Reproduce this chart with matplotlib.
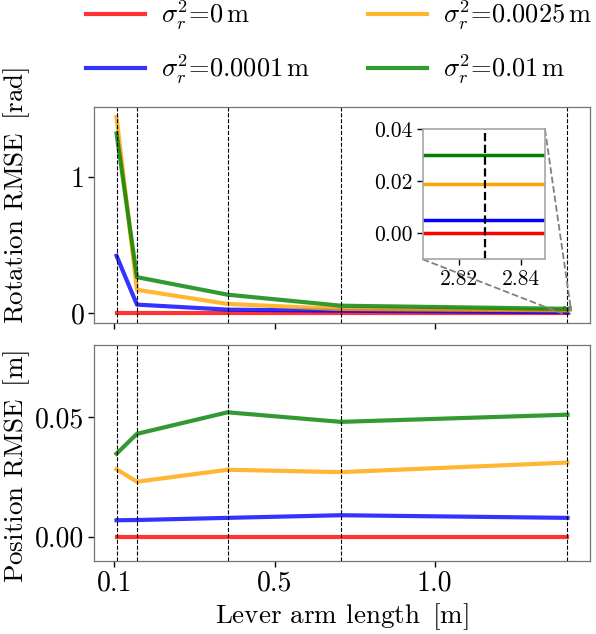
import matplotlib
matplotlib.use("Agg")
import matplotlib.pyplot as plt
from mpl_toolkits.axes_grid1.inset_locator import mark_inset

plt.rcParams['font.family'] = ['cmr10', 'DejaVu Serif']
plt.rcParams['mathtext.fontset'] = 'cm'
plt.rcParams['axes.unicode_minus'] = False
plt.rcParams['axes.formatter.use_mathtext'] = True

# ---------------- data ----------------
lever_arm = [0.01414, 0.1414, 0.7071, 1.4142, 2.8284]
xtick_pos = [0, 1, 2]
xtick_labels = ['0.1', '0.5', '1.0']

labels = [r'$\sigma_r^2$=0$\,$m', r'$\sigma_r^2$=0.0001$\,$m',
          r'$\sigma_r^2$=0.0025$\,$m', r'$\sigma_r^2$=0.01$\,$m']
colors = ['red', 'blue', 'orange', 'green']

rot_0 = [0.0, 0.0, 0.0, 0.0, 0.0]
rot_00001 = [0.42, 0.061, 0.024, 0.016, 0.005]
rot_00025 = [1.44, 0.170, 0.066, 0.029, 0.019]
rot_001 = [1.32, 0.263, 0.134, 0.053, 0.030]
rot_series = [rot_0, rot_00001, rot_00025, rot_001]

pos_0 = [0.0, 0.0, 0.0, 0.0, 0.0]
pos_00001 = [0.0069, 0.0070, 0.0079, 0.0090, 0.0079]
pos_00025 = [0.0282, 0.0230, 0.0280, 0.0270, 0.0310]
pos_001 = [0.0347, 0.0430, 0.0520, 0.0480, 0.0510]
pos_series = [pos_0, pos_00001, pos_00025, pos_001]

rot_yticks = [0, 1]
pos_yticks = [0.00, 0.05]
inset_xlim = (2.808, 2.848)
inset_ylim = (-0.01, 0.04)
inset_xticks = [2.82, 2.84]
inset_yticks = [0.00, 0.02, 0.04]

FS_TICK = 20
FS_LAB = 19.5
FS_LEG = 19
fig = plt.figure(figsize=(5.96, 6.34), dpi=100)
ax1 = fig.add_axes([0.1577, 0.491, 0.8323, 0.3398])
ax2 = fig.add_axes([0.1577, 0.1156, 0.8323, 0.3398], sharex=ax1)

for ax, series in ((ax1, rot_series), (ax2, pos_series)):
    for s, c, lab in zip(series, colors, labels):
        ax.plot(lever_arm, s, color=c, lw=3, alpha=0.8, label=lab)
    for xv in lever_arm:
        ax.axvline(xv, color='black', ls='--', lw=0.8)
    for sp in ax.spines.values():
        sp.set_color('0.45')
        sp.set_linewidth(0.9)
    ax.tick_params(labelsize=FS_TICK, length=4, width=1, color='black', pad=3)

ax2.set_ylim(-0.01, 0.08)
ax1.set_yticks(rot_yticks)
ax1.set_yticklabels([str(v) for v in rot_yticks])
ax2.set_yticks(pos_yticks)
ax2.set_yticklabels(['%.2f' % v for v in pos_yticks])
ax2.set_xticks(xtick_pos)
ax2.set_xticklabels(xtick_labels)
ax1.tick_params(labelbottom=False)

ax1.set_ylabel(r'Rotation RMSE $\,[\mathrm{rad}]$', fontsize=FS_LAB)
ax2.set_ylabel(r'Position RMSE $\,[\mathrm{m}]$', fontsize=FS_LAB)
ax2.set_xlabel(r'Lever arm length $\,[\mathrm{m}]$', fontsize=FS_LAB, labelpad=3)
ax1.yaxis.set_label_coords(-0.125, 0.59)
ax2.yaxis.set_label_coords(-0.125, 0.44)

# inset
axins = fig.add_axes([0.7092, 0.591, 0.2052, 0.205])
for s, c in zip(rot_series, colors):
    axins.axhline(s[-1], color=c, lw=2.5)
axins.axvline(lever_arm[-1], color='black', ls='--', lw=1.6)
axins.set_xlim(*inset_xlim)
axins.set_ylim(*inset_ylim)
axins.set_xticks(inset_xticks)
axins.set_xticklabels(['%.2f' % v for v in inset_xticks])
axins.set_yticks(inset_yticks)
axins.set_yticklabels(['%.2f' % v for v in inset_yticks])
axins.tick_params(labelsize=15.5, length=4, width=1, color='black')
for sp in axins.spines.values():
    sp.set_color('0.65')
    sp.set_linewidth(1.2)
mark_inset(ax1, axins, loc1=1, loc2=3, fc='none', ec='0.5', ls='--', lw=1.3)

# legend
handles, labs = ax1.get_legend_handles_labels()
fig.legend(handles, labs, loc='upper left', bbox_to_anchor=(0.104, 1.039),
           ncol=2, frameon=False, fontsize=FS_LEG, handlelength=2.24,
           handletextpad=0.6, columnspacing=2.2, labelspacing=0.75)

fig.savefig('out.png', dpi=100)
